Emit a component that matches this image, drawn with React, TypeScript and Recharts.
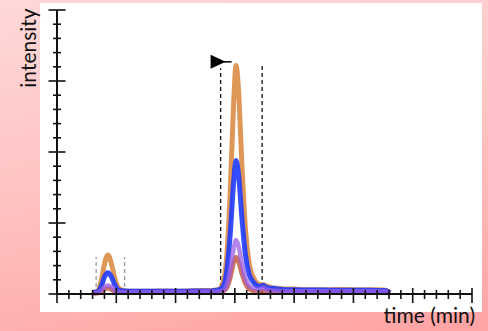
import { LineChart, Line, XAxis, YAxis, ReferenceLine, ReferenceDot } from "recharts";

// retention time, in minor-tick units along the time axis
const time = [3.0, 3.4, 3.8, 4.0, 4.3, 4.6, 4.9, 5.3, 6, 7, 8, 9, 10, 11, 12, 13, 13.6, 14.0, 14.3, 14.6, 14.9, 15.1, 15.3, 15.6, 15.9, 16.2, 16.6, 17.0, 17.4, 17.7, 18.1, 18.6, 19.2, 20, 21, 22, 23, 24, 25, 26, 27, 27.6, 28.1];

const orange = [0.1, 0.2, 1.2, 2.1, 2.75, 2.1, 1.0, 0.35, 0.2, 0.2, 0.2, 0.22, 0.2, 0.22, 0.25, 0.25, 0.3, 0.8, 2.5, 7.0, 13.5, 16.1, 14.5, 9.0, 4.5, 2.2, 1.1, 0.7, 0.65, 0.55, 0.45, 0.4, 0.35, 0.35, 0.3, 0.3, 0.3, 0.32, 0.3, 0.3, 0.3, 0.28, 0.1];
const blue = [0.1, 0.15, 0.7, 1.2, 1.5, 1.2, 0.6, 0.25, 0.2, 0.2, 0.2, 0.2, 0.2, 0.2, 0.22, 0.22, 0.28, 0.5, 1.5, 4.1, 7.9, 9.4, 8.5, 5.3, 2.7, 1.4, 0.8, 0.55, 0.6, 0.45, 0.4, 0.35, 0.3, 0.3, 0.28, 0.28, 0.27, 0.27, 0.27, 0.26, 0.25, 0.25, 0.1];
const purple = [0.05, 0.1, 0.3, 0.5, 0.6, 0.5, 0.25, 0.12, 0.12, 0.12, 0.12, 0.12, 0.12, 0.12, 0.15, 0.15, 0.18, 0.25, 0.6, 1.7, 3.2, 3.8, 3.4, 2.1, 1.1, 0.6, 0.4, 0.3, 0.45, 0.3, 0.25, 0.22, 0.2, 0.2, 0.2, 0.2, 0.2, 0.2, 0.2, 0.2, 0.2, 0.2, 0.08];
const red = [0.05, 0.05, 0.2, 0.35, 0.4, 0.3, 0.15, 0.08, 0.08, 0.08, 0.08, 0.08, 0.08, 0.08, 0.08, 0.1, 0.12, 0.2, 0.4, 1.1, 2.2, 2.6, 2.3, 1.4, 0.7, 0.35, 0.2, 0.15, 0.2, 0.15, 0.12, 0.1, 0.1, 0.1, 0.1, 0.1, 0.1, 0.1, 0.1, 0.1, 0.1, 0.1, 0.05];

const xTicks = Array.from({ length: 36 }, (_, i) => i);
const yTicks = Array.from({ length: 21 }, (_, i) => i);

// integration windows: [start, end, top]
const smallWindow = [3.3, 5.7, 2.6];
const mainWindow = [13.8, 17.3, 16.1];
const marker = { x: 13.8, y: 16.35 };

const data = time.map((t, i) => ({
  t,
  orange: orange[i],
  blue: blue[i],
  purple: purple[i],
  red: red[i],
}));

// tick marks cross the axis line; every fifth one is longer
const XTick = ({ x, y, payload }: any) => {
  const major = payload.value % 5 === 0;
  return <line x1={x} x2={x} y1={y - (major ? 6 : 4)} y2={y + (major ? 9 : 5)} stroke="#111" strokeWidth={1.6} />;
};

const YTick = ({ x, y, payload }: any) => {
  const major = payload.value % 5 === 0;
  const h = major ? 8.5 : 4;
  return <line x1={x - h} x2={x + h} y1={y} y2={y} stroke="#111" strokeWidth={1.6} />;
};

const Flag = ({ cx, cy }: any) => (
  <g>
    <polygon points={`${cx - 10},${cy - 7} ${cx - 10},${cy + 7} ${cx + 5},${cy}`} fill="#000" />
    <line x1={cx + 3} x2={cx + 11} y1={cy} y2={cy} stroke="#000" strokeWidth={1.5} />
  </g>
);

const dash = { stroke: "#111", strokeWidth: 1.3, strokeDasharray: "4 3" };
const dashGray = { stroke: "#9a9a9a", strokeWidth: 1.3, strokeDasharray: "4 3" };

const traceProps = { type: "monotone" as const, dot: false, isAnimationActive: false, filter: "url(#soft)" };

export default function App() {
  return (
    <div
      style={{
        position: "absolute",
        left: 0,
        top: 0,
        width: 488,
        height: 331,
        background: "linear-gradient(170deg, #ffd8d8 0%, #ffc4c4 45%, #ffa3a3 100%)",
        overflow: "hidden",
        fontFamily: "Lato, sans-serif",
      }}
    >
      <div style={{ position: "absolute", left: 40, top: 3, width: 442, height: 309, background: "#fff" }} />
      <div
        style={{
          position: "absolute",
          left: 27,
          top: 48,
          transform: "translate(-50%, -50%) rotate(-90deg)",
          fontSize: 21,
          color: "#111",
          whiteSpace: "nowrap",
        }}
      >
        intensity
      </div>
      <div
        style={{
          position: "absolute",
          right: 13,
          top: 302,
          fontSize: 21,
          color: "#111",
          whiteSpace: "nowrap",
        }}
      >
        time (min)
      </div>
      <div style={{ position: "absolute", left: 0, top: 0 }}>
        <LineChart width={488} height={331} data={data} margin={{ top: 10, right: 16, bottom: 17, left: 37 }}>
          <defs>
            <filter id="soft" x="-5%" y="-5%" width="110%" height="110%">
              <feGaussianBlur stdDeviation="0.6" />
            </filter>
          </defs>
          <XAxis
            dataKey="t"
            type="number"
            domain={[0, 35]}
            ticks={xTicks}
            interval={0}
            height={20}
            tickSize={0}
            tickMargin={0}
            tickLine={false}
            tick={XTick}
            axisLine={{ stroke: "#111", strokeWidth: 2 }}
          />
          <YAxis
            type="number"
            domain={[0, 20]}
            ticks={yTicks}
            interval={0}
            width={20}
            tickSize={0}
            tickMargin={0}
            tickLine={false}
            tick={YTick}
            axisLine={{ stroke: "#111", strokeWidth: 2 }}
          />
          <ReferenceLine segment={[{ x: smallWindow[0], y: 0 }, { x: smallWindow[0], y: smallWindow[2] }]} {...dashGray} />
          <ReferenceLine segment={[{ x: smallWindow[1], y: 0 }, { x: smallWindow[1], y: smallWindow[2] }]} {...dashGray} />
          <ReferenceLine segment={[{ x: mainWindow[0], y: 0 }, { x: mainWindow[0], y: mainWindow[2] - 0.2 }]} {...dash} />
          <ReferenceLine segment={[{ x: mainWindow[1], y: 0 }, { x: mainWindow[1], y: mainWindow[2] }]} {...dash} />
          <Line {...traceProps} dataKey="orange" stroke="#d9853b" strokeWidth={5} strokeOpacity={0.85} />
          <Line {...traceProps} dataKey="red" stroke="#c0503a" strokeWidth={4.5} strokeOpacity={0.8} />
          <Line {...traceProps} dataKey="blue" stroke="#1f3cff" strokeWidth={5} strokeOpacity={0.9} />
          <Line {...traceProps} dataKey="purple" stroke="#9b5de5" strokeWidth={4.5} strokeOpacity={0.75} />
          <ReferenceDot x={marker.x} y={marker.y} r={0} shape={<Flag />} />
        </LineChart>
      </div>
    </div>
  );
}
